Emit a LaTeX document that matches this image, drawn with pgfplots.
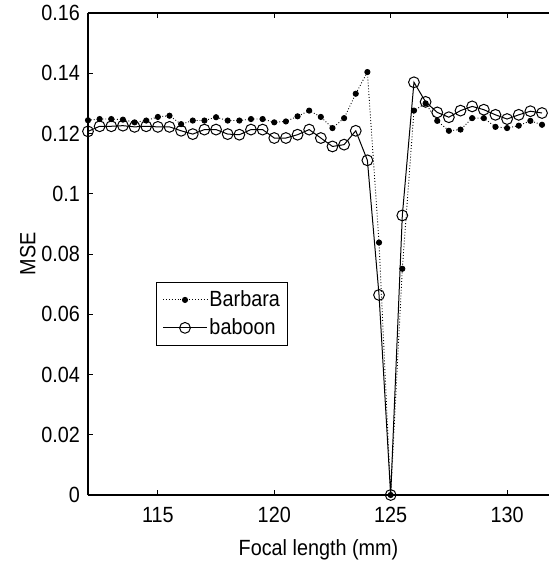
\documentclass[border=0pt]{standalone}
\usepackage{fontspec}
\setmainfont{Liberation Sans}[FakeStretch=0.9]
\usepackage{pgfplots}
\pgfplotsset{compat=1.18}

\pgfplotstableread{
x y
112 0.1244
112.5 0.1248
113 0.1248
113.5 0.1246
114 0.1237
114.5 0.1243
115 0.1255
115.5 0.1259
116 0.1231
116.5 0.1243
117 0.1243
117.5 0.1254
118 0.1243
118.5 0.1243
119 0.1248
119.5 0.1248
120 0.1237
120.5 0.1240
121 0.1257
121.5 0.1276
122 0.1255
122.5 0.1218
123 0.1251
123.5 0.1332
124 0.1404
124.5 0.0838
125 0.0
125.5 0.0751
126 0.1276
126.5 0.1300
127 0.1242
127.5 0.1209
128 0.1213
128.5 0.1251
129 0.1251
129.5 0.1222
130 0.1218
130.5 0.1226
131 0.1242
131.5 0.1229
}\barbara

\pgfplotstableread{
x y
112 0.1207
112.5 0.1224
113 0.1224
113.5 0.1226
114 0.1222
114.5 0.1224
115 0.1222
115.5 0.1222
116 0.1209
116.5 0.1198
117 0.1213
117.5 0.1213
118 0.1198
118.5 0.1196
119 0.1213
119.5 0.1213
120 0.1185
120.5 0.1185
121 0.1196
121.5 0.1213
122 0.1185
122.5 0.1157
123 0.1163
123.5 0.1209
124 0.1111
124.5 0.0664
125 0.0
125.5 0.0928
126 0.1370
126.5 0.1305
127 0.1270
127.5 0.1254
128 0.1276
128.5 0.1290
129 0.1279
129.5 0.1262
130 0.1248
130.5 0.1262
131 0.1274
131.5 0.1268
}\baboon

\begin{document}
\begin{tikzpicture}
\begin{axis}[
    width=230.5pt, height=241pt,
    scale only axis,
    xmin=112, xmax=131.8,
    ymin=0, ymax=0.16,
    axis x line*=box,
    axis y line*=left,
    xtick={115,120,125,130},
    ytick={0,0.02,0.04,0.06,0.08,0.1,0.12,0.14,0.16},
    yticklabels={0,0.02,0.04,0.06,0.08,0.1,0.12,0.14,0.16},
    tick align=inside,
    major tick length=2.5pt,
    tick style={black, line width=0.5pt},
    axis line style={line width=0.6pt},
    /pgf/number format/assume math mode=true,
    ticklabel style={font=\fontsize{11}{13}\selectfont},
    xticklabel style={yshift=-2.5pt},
    yticklabel style={xshift=-0.5pt},
    label style={font=\fontsize{11}{13}\selectfont},
    xlabel style={yshift=-1.5pt},
    ylabel style={yshift=-4pt},
    xlabel={Focal length (mm)},
    ylabel={MSE},
    legend style={
        at={(0.1475,0.442)}, anchor=north west,
        draw=black, line width=0.5pt,
        font=\fontsize{11}{13}\selectfont,
        row sep=2.5pt, inner xsep=3pt, inner ysep=3pt,
        nodes={inner sep=1pt}
    },
    legend cell align=left,
    legend image code/.code={
        \draw[mark repeat=2,mark phase=2,#1]
            plot coordinates {(0pt,0pt) (11pt,0pt) (22pt,0pt)};
    },
]
\addplot[black, line width=0.45pt, densely dotted,
    mark=*, mark size=1.3pt, mark options={solid, fill=black}]
    table[x=x, y=y] {\barbara};
\addlegendentry{Barbara}
\addplot[black, line width=0.5pt,
    mark=o, mark size=2.7pt, mark options={solid}]
    table[x=x, y=y] {\baboon};
\addlegendentry{baboon}
\end{axis}
\pgfresetboundingbox
\path (current axis.south west) ++(-44pt,-37pt) coordinate (bl);
\path (current axis.north east) ++(0pt,6.5pt) coordinate (tr);
\path[use as bounding box] (bl) rectangle (tr);
\end{tikzpicture}
\end{document}
